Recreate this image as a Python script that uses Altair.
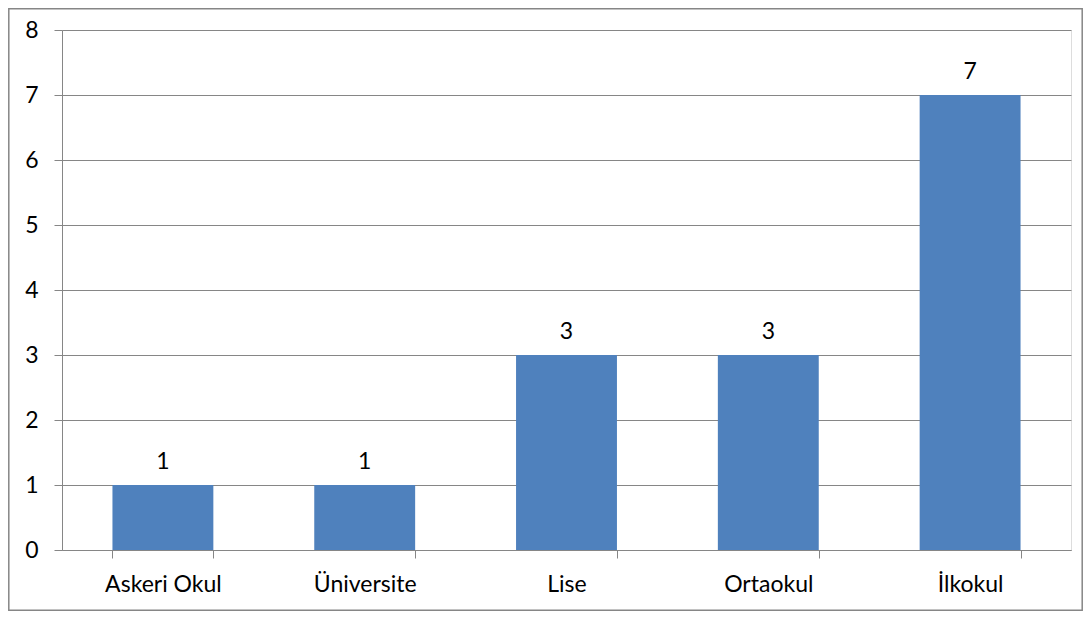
import altair as alt
import pandas as pd

categories = ["Askeri Okul", "Üniversite", "Lise", "Ortaokul", "İlkokul"]
values = [1, 1, 3, 3, 7]

df = pd.DataFrame({"kategori": categories, "deger": values})

FONT = "Lato"
GRID = "#868686"
W, H = 1009, 520

x_enc = alt.X(
    "kategori:N",
    sort=categories,
    title=None,
    scale=alt.Scale(paddingInner=0.5, paddingOuter=0.25),
    axis=alt.Axis(
        labelAngle=0, labelFontSize=23, labelFont=FONT, labelColor="#000000",
        labelPadding=15, tickSize=8, tickColor=GRID, domainColor=GRID,
        tickBand="extent", grid=False, labelLimit=300,
    ),
)
y_enc = alt.Y(
    "deger:Q",
    title=None,
    scale=alt.Scale(domain=[0, 8], nice=False),
    axis=alt.Axis(
        values=list(range(0, 9)), format="d", labelFontSize=23, labelFont=FONT,
        labelColor="#000000", labelPadding=16, tickSize=8, tickColor=GRID,
        domainColor=GRID, gridColor=GRID, gridOpacity=1,
    ),
)

bars = alt.Chart(df).mark_bar(color="#4F81BD").encode(x=x_enc, y=y_enc)
labels = alt.Chart(df).mark_text(
    font=FONT, fontSize=23, color="#000000", baseline="alphabetic", dy=-16
).encode(x=alt.X("kategori:N", sort=categories), y="deger:Q", text="deger:Q")

border_df = pd.DataFrame({"b": [0]})
border = alt.Chart(border_df).mark_rect(
    fill=None, stroke=GRID, strokeWidth=1.5
).encode(
    x=alt.value(-53.2), x2=alt.value(1020.2),
    y=alt.value(-21.2), y2=alt.value(580.2),
)

chart = alt.layer(bars, labels, border).properties(
    width=W, height=H,
    autosize=alt.AutoSizeParams(type="none"),
    padding={"left": 54, "top": 22, "right": 12, "bottom": 61},
).configure_view(stroke=None).configure(background="white")

chart.save("out.html", embed_options={"renderer": "svg", "actions": False})
